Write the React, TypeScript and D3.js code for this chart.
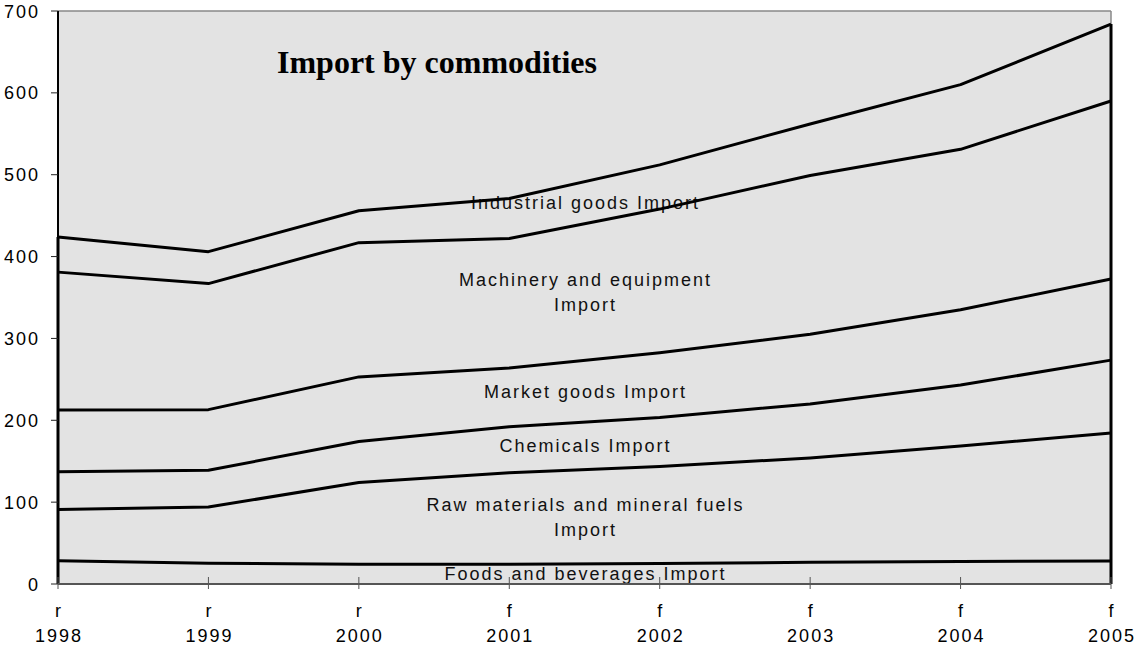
import React from "react";
import * as d3 from "d3";

// Import by commodity group, stacked (bottom to top)
const years = ["1998", "1999", "2000", "2001", "2002", "2003", "2004", "2005"];
const flags = ["r", "r", "r", "f", "f", "f", "f", "f"];
const foods = [28.5, 25.5, 24, 24, 25, 26.5, 27.5, 28];
const rawMaterials = [62.5, 68.5, 100, 112, 118.5, 127.5, 141, 156.5];
const chemicals = [46, 45, 50, 56, 60, 66, 74.5, 89];
const marketGoods = [75.5, 74, 79, 72, 79, 85, 92, 99];
const machinery = [168.5, 154, 164, 158, 175.5, 194, 196, 217.5];
const industrial = [43, 39, 39, 49, 54, 63, 79, 94];
const yTicks = [0, 100, 200, 300, 400, 500, 600, 700];

const seriesKeys = ["foods", "raw", "chem", "market", "mach", "ind"];
const seriesLabels: Record<string, string[]> = {
  foods: ["Foods and beverages Import"],
  raw: ["Raw materials and mineral fuels", "Import"],
  chem: ["Chemicals Import"],
  market: ["Market goods Import"],
  mach: ["Machinery and equipment", "Import"],
  ind: ["Industrial goods Import"],
};

const rows = years.map((y, i) => ({
  year: y,
  foods: foods[i],
  raw: rawMaterials[i],
  chem: chemicals[i],
  market: marketGoods[i],
  mach: machinery[i],
  ind: industrial[i],
}));

const W = 1136;
const H = 648;
const left = 58;
const right = 1111;
const top = 11;
const bottom = 584;

export default function App() {
  const x = d3.scalePoint<string>().domain(years).range([left, right]).padding(0);
  const y = d3.scaleLinear().domain([0, 700]).range([bottom, top]);
  const stacked = d3.stack<any>().keys(seriesKeys)(rows);

  const area = d3
    .area<any>()
    .x((d) => x(d.data.year) as number)
    .y0((d) => y(d[0]))
    .y1((d) => y(d[1]));
  const line = d3
    .line<any>()
    .x((d) => x(d.data.year) as number)
    .y((d) => y(d[1]));

  const totalFirst = stacked[stacked.length - 1][0][1];
  const totalLast = stacked[stacked.length - 1][years.length - 1][1];

  // label position: horizontal middle of the plot, vertical middle of each band there
  const midX = (left + right) / 2;
  const step = (right - left) / (years.length - 1);
  const fi = (midX - left) / step;
  const i0 = Math.floor(fi);
  const t = fi - i0;
  const interp = (arr: number[]) => arr[i0] + (arr[i0 + 1] - arr[i0]) * t;

  const font = "Arial, 'Liberation Sans', sans-serif";
  const fs = 18;
  const ls = 2;

  return (
    <svg
      width={W}
      height={H}
      style={{ position: "absolute", left: 0, top: 0, background: "#fff" }}
    >
      <rect x={left} y={top} width={right - left} height={bottom - top} fill="#E3E3E3" />
      {stacked.map((s) => (
        <path key={s.key} d={area(s) || ""} fill="#E3E3E3" />
      ))}
      {/* plot border (top and right) */}
      <line x1={left} x2={right} y1={top} y2={top} stroke="#888" strokeWidth={1.5} />
      <line x1={right} x2={right} y1={top} y2={bottom} stroke="#888" strokeWidth={1.5} />

      {/* band labels */}
      {stacked.map((s) => {
        const lo = interp(s.map((d) => d[0]));
        const hi = interp(s.map((d) => d[1]));
        const cy = y((lo + hi) / 2);
        const lines = seriesLabels[s.key];
        const lh = 25;
        return (
          <text
            key={"lbl-" + s.key}
            x={midX + ls / 2}
            textAnchor="middle"
            fontFamily={font}
            fontSize={fs}
            letterSpacing={ls}
            fill="#111"
          >
            {lines.map((l, k) => (
              <tspan key={k} x={midX + ls / 2} y={cy + 6.5 + (k - (lines.length - 1) / 2) * lh}>
                {l}
              </tspan>
            ))}
          </text>
        );
      })}

      {/* band boundaries */}
      {stacked.map((s) => (
        <path
          key={"ln-" + s.key}
          d={line(s) || ""}
          fill="none"
          stroke="#000"
          strokeWidth={3}
          strokeLinejoin="round"
        />
      ))}
      <line x1={left} x2={left} y1={y(0)} y2={y(totalFirst)} stroke="#000" strokeWidth={3} />
      <line x1={right} x2={right} y1={y(0)} y2={y(totalLast)} stroke="#000" strokeWidth={3} />

      {/* y axis */}
      <line x1={left} x2={left} y1={top} y2={bottom} stroke="#000" strokeWidth={2} />
      {yTicks.map((v) => (
        <g key={"yt" + v}>
          <line x1={left - 7} x2={left} y1={y(v)} y2={y(v)} stroke="#222" strokeWidth={1} />
          <text
            x={38 + ls}
            y={y(v) + 6.5}
            textAnchor="end"
            fontFamily={font}
            fontSize={fs}
            letterSpacing={ls}
            fill="#000"
          >
            {v}
          </text>
        </g>
      ))}

      {/* x axis */}
      {years.map((yr, i) => (
        <g key={"xt" + yr}>
          <line
            x1={x(yr) as number}
            x2={x(yr) as number}
            y1={bottom - 7}
            y2={bottom + 5}
            stroke="#555"
            strokeWidth={1}
          />
          <text
            x={(x(yr) as number) + ls / 2}
            y={617}
            textAnchor="middle"
            fontFamily={font}
            fontSize={fs}
            letterSpacing={ls}
            fill="#000"
          >
            {flags[i]}
          </text>
          <text
            x={(x(yr) as number) + ls / 2}
            y={642}
            textAnchor="middle"
            fontFamily={font}
            fontSize={fs}
            letterSpacing={ls}
            fill="#000"
          >
            {yr}
          </text>
        </g>
      ))}
      <line x1={left} x2={right} y1={bottom} y2={bottom} stroke="#555" strokeWidth={2} />

      {/* chart title */}
      <text
        x={277}
        y={73}
        fontFamily="'Times New Roman', 'Liberation Serif', serif"
        fontWeight="bold"
        fontSize={32}
        fill="#000"
      >
        Import by commodities
      </text>
    </svg>
  );
}
